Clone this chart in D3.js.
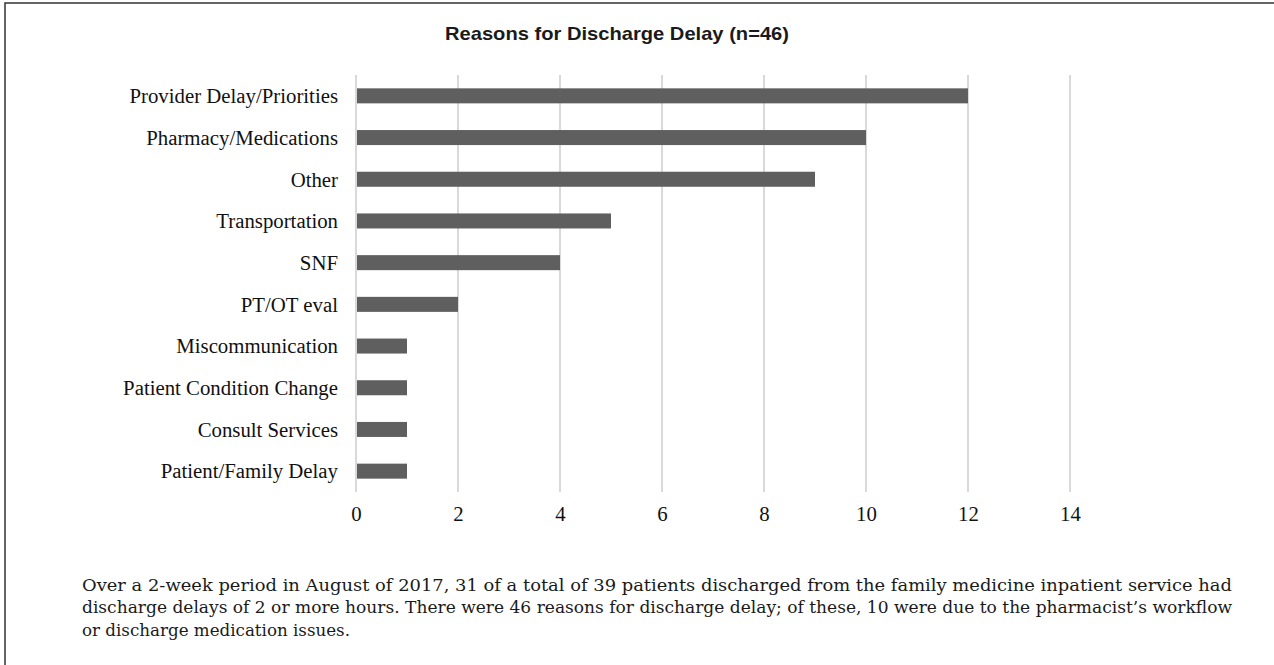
<!DOCTYPE html>
<html>
<head>
<meta charset="utf-8">
<script src="https://cdn.jsdelivr.net/npm/d3@7"></script>
<style>
  body { margin: 0; background: #fff; }
  svg { display: block; }
  .cat-axis text, .val-axis text { font-family: "Liberation Serif", "Times New Roman", serif; font-size: 20.8px; fill: #111; }
  .grid line { stroke: #d9d9d9; stroke-width: 2; }
</style>
</head>
<body>
<svg id="chart"></svg>
<script>
// data
const categories = ['Provider Delay/Priorities', 'Pharmacy/Medications', 'Other', 'Transportation', 'SNF',
  'PT/OT eval', 'Miscommunication', 'Patient Condition Change', 'Consult Services', 'Patient/Family Delay'];
const counts = [12, 10, 9, 5, 4, 2, 1, 1, 1, 1];
const xTicks = [0, 2, 4, 6, 8, 10, 12, 14];
const titleText = 'Reasons for Discharge Delay (n=46)';
const captionLines = [
  'Over a 2-week period in August of 2017, 31 of a total of 39 patients discharged from the family medicine inpatient service had',
  'discharge delays of 2 or more hours. There were 46 reasons for discharge delay; of these, 10 were due to the pharmacist\u2019s workflow',
  'or discharge medication issues.'
];

const W = 1274, H = 665;
const margin = {top: 75, left: 356, right: 204, bottom: 173};
const width = W - margin.left - margin.right;   // 714
const height = H - margin.top - margin.bottom;  // 417

const svg = d3.select('#chart').attr('width', W).attr('height', H);

// frame: only top and left edges show in the reference
svg.append('path').attr('d', `M5,${H} L5,3 L${W},3`)
  .attr('fill', 'none').attr('stroke', '#333').attr('stroke-width', 1.5);

svg.append('text').attr('x', 445).attr('y', 40)
  .attr('font-family', '"Liberation Sans", Arial, sans-serif').attr('font-weight', 'bold')
  .attr('font-size', 19).attr('fill', '#1a1a1a')
  .attr('textLength', 344).attr('lengthAdjust', 'spacingAndGlyphs')
  .text(titleText);

const g = svg.append('g').attr('transform', `translate(${margin.left},${margin.top})`);

const x = d3.scaleLinear().domain([0, 14]).range([0, width]);
const y = d3.scaleBand().domain(categories).range([0, height]).paddingInner(0.64).paddingOuter(0.32);

// vertical gridlines
g.append('g').attr('class', 'grid')
  .selectAll('line').data(xTicks).enter().append('line')
  .attr('x1', d => x(d)).attr('x2', d => x(d)).attr('y1', 0).attr('y2', height);

g.append('g').attr('class', 'bars').selectAll('rect').data(counts).enter().append('rect')
  .attr('x', x(0) + 1)
  .attr('y', (d, i) => y(categories[i]))
  .attr('width', d => x(d) - x(0) - 1)
  .attr('height', y.bandwidth())
  .attr('fill', '#5f5f5f');

// category labels
const yAxis = g.append('g').attr('class', 'cat-axis').call(d3.axisLeft(y).tickSize(0).tickPadding(18));
yAxis.select('.domain').remove();
yAxis.selectAll('text').attr('dy', '0.35em');

// value labels
const xAxis = g.append('g').attr('class', 'val-axis').attr('transform', `translate(0,${height})`)
  .call(d3.axisBottom(x).tickValues(xTicks).tickSize(0).tickPadding(14).tickFormat(d3.format('d')));
xAxis.select('.domain').remove();

// caption, justified like the source
const capLeft = 82;
const lineEnds = [1232, 1232, 350];
svg.append('g').attr('font-family', '"DejaVu Serif", "Liberation Serif", serif')
  .attr('font-size', 16).attr('fill', '#1a1a1a')
  .selectAll('text').data(captionLines).enter().append('text')
  .attr('x', capLeft).attr('y', (d, i) => 590.5 + i * 22.5)
  .attr('textLength', (d, i) => lineEnds[i] - capLeft).attr('lengthAdjust', 'spacingAndGlyphs')
  .text(d => d);
</script>
</body>
</html>
